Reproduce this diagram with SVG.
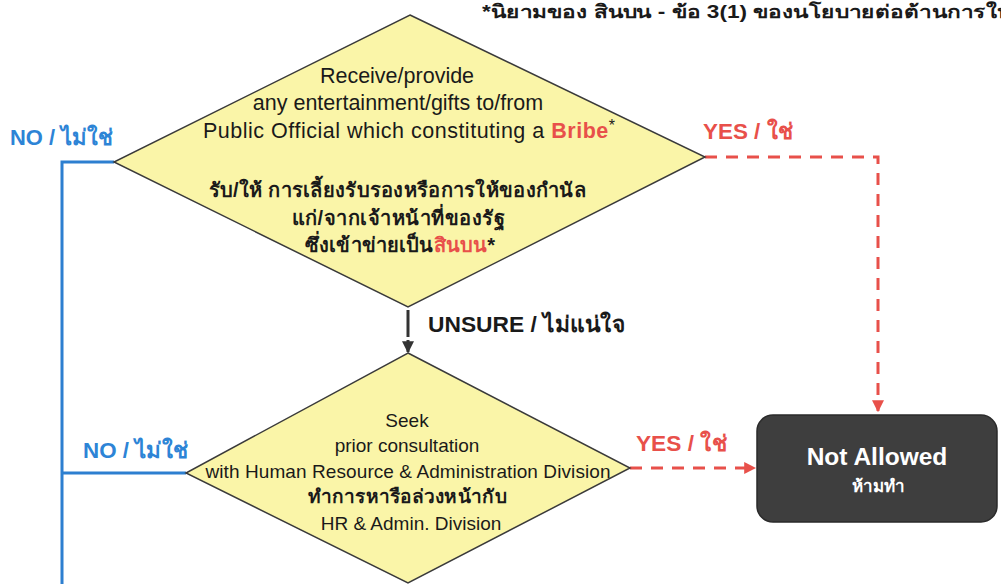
<svg xmlns="http://www.w3.org/2000/svg" width="1001" height="584" viewBox="0 0 1001 584">
<defs>
<style>
.t{font-family:"Liberation Sans","Noto Sans",Arial,sans-serif;fill:#1a1a1a;text-anchor:middle}
.dia{fill:#faf5a8;stroke:#3a3a3a;stroke-width:1.5}
.no{stroke:#2d7fd0;stroke-width:3;fill:none}
.yes{stroke:#e8504a;stroke-width:3;fill:none;stroke-dasharray:12 9}
.lblno{font-family:"Liberation Sans","Noto Sans",sans-serif;font-weight:bold;font-size:22px;fill:#2d84d6}
.lblyes{font-family:"Liberation Sans","Noto Sans",sans-serif;font-weight:bold;font-size:22px;fill:#e8504a}
.red{fill:#e8504a;font-weight:bold}
</style>
<marker id="ar" viewBox="0 0 10 10" refX="9" refY="5" markerWidth="4" markerHeight="4" orient="auto"><path d="M0,0 L10,5 L0,10 z" fill="#e8504a"/></marker>
<marker id="ak" viewBox="0 0 10 10" refX="9" refY="5" markerWidth="4" markerHeight="4" orient="auto"><path d="M0,0 L10,5 L0,10 z" fill="#333"/></marker>
</defs>
<rect width="1001" height="584" fill="#fff"/>
<text x="482" y="18" font-family="'Liberation Sans','Noto Sans',sans-serif" font-size="18" font-weight="bold" fill="#1a1a1a" textLength="530" lengthAdjust="spacingAndGlyphs">*นิยามของ สินบน  - ข้อ 3(1) ของนโยบายต่อต้านการให</text>
<g id="connectors">
<polyline class="no" points="114,162 62,162 62,584"/>
<polyline class="no" points="186,473 62,473"/>
<polyline class="yes" points="705,157 878,157 878,411" marker-end="url(#ar)"/>
<polyline class="yes" points="630,468 755,468" marker-end="url(#ar)"/>
<line x1="408" y1="310" x2="408" y2="337" stroke="#333" stroke-width="3"/>
<line x1="408" y1="340" x2="408" y2="352" stroke="#333" stroke-width="3" marker-end="url(#ak)"/>
<text class="lblno" x="10" y="145" textLength="103" lengthAdjust="spacingAndGlyphs">NO / ไม่ใช่</text>
<text class="lblno" x="83" y="458" textLength="105" lengthAdjust="spacingAndGlyphs">NO / ไม่ใช่</text>
<text class="lblyes" x="703" y="139" textLength="90" lengthAdjust="spacingAndGlyphs">YES / ใช่</text>
<text class="lblyes" x="636" y="451" textLength="91" lengthAdjust="spacingAndGlyphs">YES / ใช่</text>
<text x="428" y="332" font-family="'Liberation Sans','Noto Sans',sans-serif" font-weight="bold" font-size="22" fill="#1a1a1a" textLength="197" lengthAdjust="spacingAndGlyphs">UNSURE / ไม่แน่ใจ</text>
</g>
<g id="decision1">
<polygon class="dia" points="410,15 705,157 408,307 114,162"/>
<text class="t" x="397" y="83" font-size="21.5">Receive/provide</text>
<text class="t" x="398" y="110" font-size="21.5">any entertainment/gifts to/from</text>
<text class="t" x="409" y="138" font-size="21.5" textLength="412">Public Official which constituting a <tspan class="red">Bribe</tspan><tspan dy="-7" font-size="16">*</tspan></text>
<text class="t" x="397" y="197" font-size="20" font-weight="bold" textLength="377">รับ/ให้ การเลี้ยงรับรองหรือการให้ของกำนัล</text>
<text class="t" x="398" y="225" font-size="20" font-weight="bold" textLength="213">แก่/จากเจ้าหน้าที่ของรัฐ</text>
<text class="t" x="400" y="252" font-size="20" font-weight="bold" textLength="190">ซึ่งเข้าข่ายเป็น<tspan class="red">สินบน</tspan>*</text>
</g>
<g id="decision2">
<polygon class="dia" points="408,353 630,468 408,583 186,473"/>
<text class="t" x="407" y="427" font-size="19">Seek</text>
<text class="t" x="407" y="452" font-size="19">prior consultation</text>
<text class="t" x="408" y="478" font-size="19" textLength="405">with Human Resource &amp; Administration Division</text>
<text class="t" x="407" y="503" font-size="19" font-weight="bold" textLength="199">ทำการหารือล่วงหน้ากับ</text>
<text class="t" x="411" y="530" font-size="19">HR &amp; Admin. Division</text>
</g>
<g id="notallowed">
<rect x="757" y="415" width="240" height="107" rx="16" fill="#3e3e3e" stroke="#2a2a2a" stroke-width="1.5"/>
<text x="877" y="465" font-family="'Liberation Sans','Noto Sans',sans-serif" font-weight="bold" font-size="24.5" fill="#fff" text-anchor="middle">Not Allowed</text>
<text x="878" y="492" font-family="'Liberation Sans','Noto Sans',sans-serif" font-weight="bold" font-size="17" fill="#fff" text-anchor="middle">ห้ามทำ</text>
</g>
</svg>
